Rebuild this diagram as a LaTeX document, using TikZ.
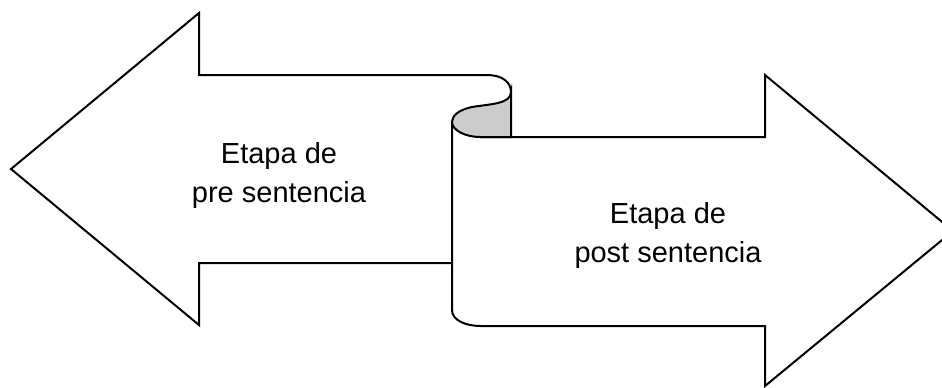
\documentclass[tikz,border=0pt]{standalone}
\usepackage{fontspec}
\setmainfont{Liberation Sans}
\begin{document}
\begin{tikzpicture}[x=0.5pt,y=-0.5pt,
  outline/.style={draw=black,line width=1pt,line join=miter},
  lbl/.style={anchor=base,inner sep=0pt,font=\fontsize{14.5}{17}\selectfont}]
\clip (0,0) rectangle (942,387);
% left arrow
\draw[outline,fill=white] (487,75) -- (199,75) -- (199,13) -- (11,169) -- (199,325) -- (199,263) -- (452,263);
% right arrow body
\draw[outline,fill=white] (452,122) -- (452,310) .. controls (452,320) and (465,326) .. (481,326)
  -- (765,326) -- (765,386) -- (953,231) -- (765,75) -- (765,137) -- (480,137);
% curl top
\draw[outline] (487,75) .. controls (502,75) and (511,82) .. (511,92);
% grey fold
\draw[outline,fill=black!20] (511,92) .. controls (511,104) and (490,104) .. (472,107)
  .. controls (458,110) and (452,116) .. (452,122)
  .. controls (452,130) and (465,137) .. (480,137) -- (511,137) -- cycle;
% labels
\node[lbl] (l1) at (279,163) {Etapa de};
\node[lbl] (l2) at (279,202) {pre sentencia};
\node[lbl] (r1) at (668,223) {Etapa de};
\node[lbl] (r2) at (668,262) {post sentencia};
\end{tikzpicture}
\end{document}
